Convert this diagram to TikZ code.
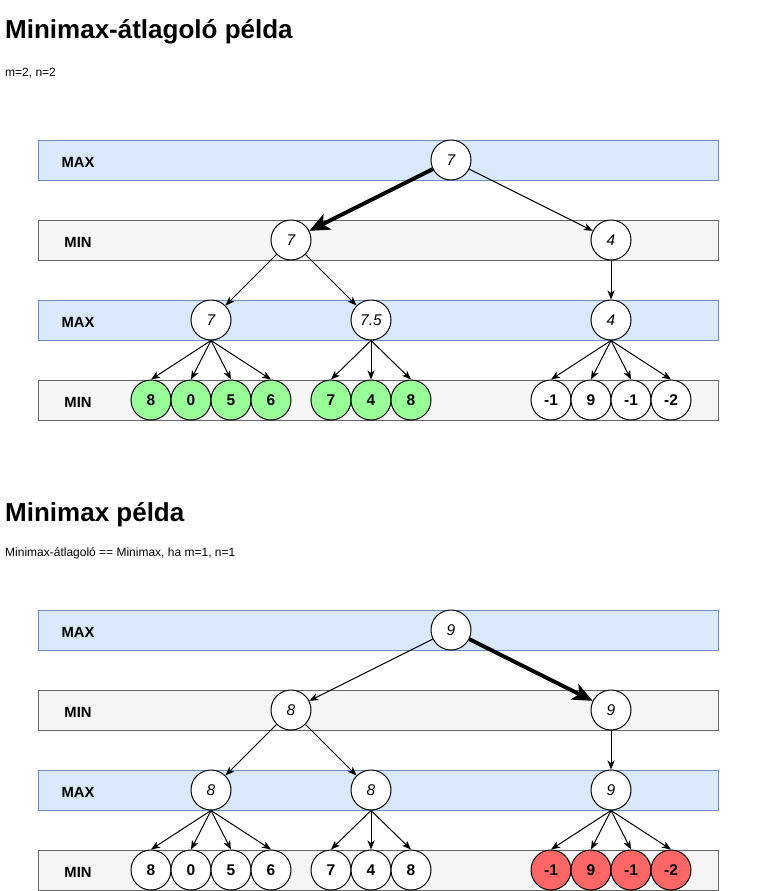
\documentclass[tikz,border=0pt]{standalone}
\usepackage{fontspec}
\setmainfont{Liberation Sans}
\usetikzlibrary{arrows.meta}
\definecolor{maxfill}{HTML}{DAE8FC}
\definecolor{maxdraw}{HTML}{6C8EBF}
\definecolor{minfill}{HTML}{F5F5F5}
\definecolor{mindraw}{HTML}{666666}
\definecolor{leafgreen}{HTML}{99FF99}
\definecolor{leafred}{HTML}{FF6666}
\begin{document}
\begin{tikzpicture}[x=1pt,y=-1pt,
  band/.style={line width=1pt,minimum width=680pt,minimum height=40pt,inner sep=0pt,outer sep=0pt},
  maxband/.style={band,draw=maxdraw,fill=maxfill},
  minband/.style={band,draw=mindraw,fill=minfill},
  lvl/.style={font=\fontsize{14.8}{17}\selectfont\bfseries,inner sep=0pt},
  inode/.style={circle,draw=black,fill=white,line width=1pt,minimum size=40pt,inner sep=0pt,font=\fontsize{15.5}{17}\selectfont\itshape},
  leaf/.style={inode,font=\fontsize{15.5}{17}\selectfont\bfseries},
  gleaf/.style={leaf,fill=leafgreen},
  rleaf/.style={leaf,fill=leafred},
  wleaf/.style={leaf,fill=white},
  edge/.style={draw=black,line width=1pt,-{Stealth[length=9pt,width=7pt,inset=2.5pt]}},
  boldedge/.style={draw=black,line width=4pt,-{Stealth[length=20pt,width=17pt,inset=5pt]}},
  ttl/.style={anchor=base west,inner sep=0pt,font=\fontsize{26}{30}\selectfont\bfseries},
  subttl/.style={anchor=base west,inner sep=0pt,font=\fontsize{12}{14}\selectfont}
]
\useasboundingbox (0,0) rectangle (765,891);

% ---------- first diagram ----------
\node[ttl] (title1) at (5,39) {Minimax-átlagoló példa};
\node[subttl] (sub1) at (5,76) {m=2, n=2};

\node[maxband] (band11) at (378,160) {};
\node[minband] (band12) at (378,240) {};
\node[maxband] (band13) at (378,320) {};
\node[minband] (band14) at (378,400) {};
\node[lvl] (lab11) at (78,162) {MAX};
\node[lvl] (lab12) at (78,242) {MIN};
\node[lvl] (lab13) at (78,322) {MAX};
\node[lvl] (lab14) at (78,402) {MIN};

\node[inode] (ar) at (451,160) {7};
\node[inode] (aa) at (291,240) {7};
\node[inode] (ab) at (611,240) {4};
\node[inode] (ac) at (211,320) {7};
\node[inode] (ad) at (371,320) {7.5};
\node[inode] (ae) at (611,320) {4};

\draw[boldedge] (ar) -- (aa);
\draw[edge] (ar) -- (ab);
\draw[edge] (aa) -- (ac);
\draw[edge] (aa) -- (ad);
\draw[edge] (ab) -- (ae);

\foreach \v/\x [count=\i] in {8/151,0/191,5/231,6/271} {
  \node[gleaf] (acl\i) at (\x,400) {\v};
  \draw[edge] (ac.south) -- (acl\i.north);
}
\foreach \v/\x [count=\i] in {7/331,4/371,8/411} {
  \node[gleaf] (adl\i) at (\x,400) {\v};
  \draw[edge] (ad.south) -- (adl\i.north);
}
\foreach \v/\x [count=\i] in {-1/551,9/591,-1/631,-2/671} {
  \node[wleaf] (ael\i) at (\x,400) {\v};
  \draw[edge] (ae.south) -- (ael\i.north);
}

% ---------- second diagram ----------
\node[ttl] (title2) at (5,521) {Minimax példa};
\node[subttl] (sub2) at (5,556) {Minimax-átlagoló == Minimax, ha m=1, n=1};

\node[maxband] (band21) at (378,630) {};
\node[minband] (band22) at (378,710) {};
\node[maxband] (band23) at (378,790) {};
\node[minband] (band24) at (378,870) {};
\node[lvl] (lab21) at (78,632) {MAX};
\node[lvl] (lab22) at (78,712) {MIN};
\node[lvl] (lab23) at (78,792) {MAX};
\node[lvl] (lab24) at (78,872) {MIN};

\node[inode] (br) at (451,630) {9};
\node[inode] (ba) at (291,710) {8};
\node[inode] (bb) at (611,710) {9};
\node[inode] (bc) at (211,790) {8};
\node[inode] (bd) at (371,790) {8};
\node[inode] (be) at (611,790) {9};

\draw[edge] (br) -- (ba);
\draw[boldedge] (br) -- (bb);
\draw[edge] (ba) -- (bc);
\draw[edge] (ba) -- (bd);
\draw[edge] (bb) -- (be);

\foreach \v/\x [count=\i] in {8/151,0/191,5/231,6/271} {
  \node[wleaf] (bcl\i) at (\x,870) {\v};
  \draw[edge] (bc.south) -- (bcl\i.north);
}
\foreach \v/\x [count=\i] in {7/331,4/371,8/411} {
  \node[wleaf] (bdl\i) at (\x,870) {\v};
  \draw[edge] (bd.south) -- (bdl\i.north);
}
\foreach \v/\x [count=\i] in {-1/551,9/591,-1/631,-2/671} {
  \node[rleaf] (bel\i) at (\x,870) {\v};
  \draw[edge] (be.south) -- (bel\i.north);
}
\end{tikzpicture}
\end{document}
